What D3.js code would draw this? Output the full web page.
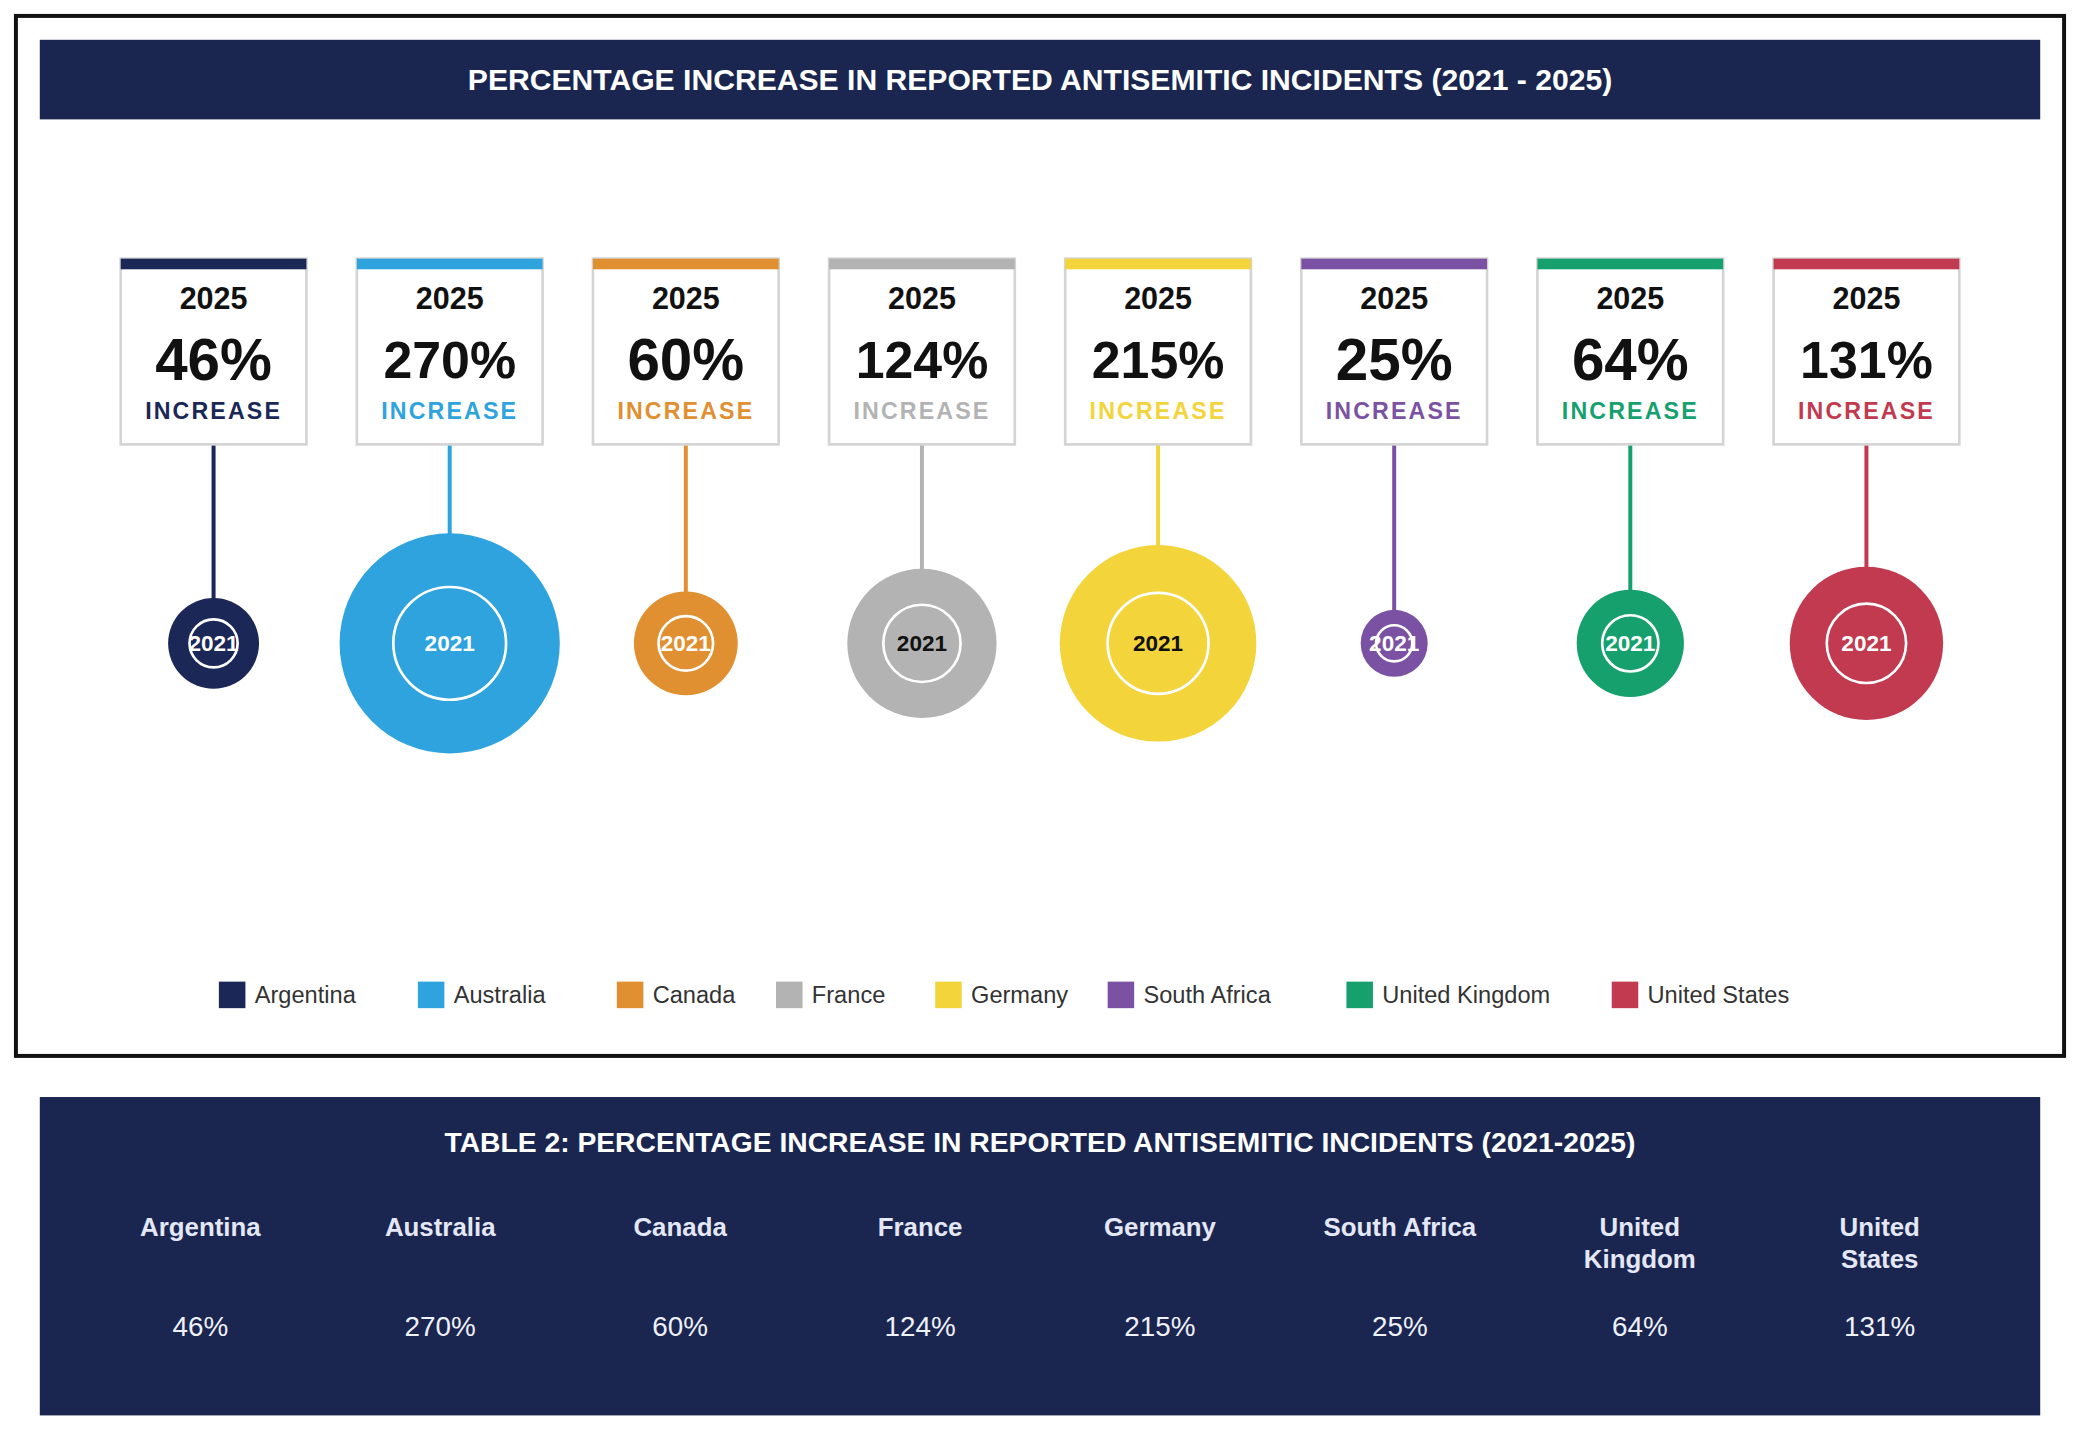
<!DOCTYPE html>
<html>
<head>
<meta charset="utf-8">
<script src="https://cdn.jsdelivr.net/npm/d3@7"></script>
<style>
  html, body { margin: 0; padding: 0; background: #ffffff; }
  svg { display: block; }
  text { font-family: "Liberation Sans", Arial, Helvetica, sans-serif; }
</style>
</head>
<body>
<div id="chart"></div>
<script>
// ---------- DATA ----------
const countries = ["Argentina", "Australia", "Canada", "France", "Germany", "South Africa", "United Kingdom", "United States"];
const increases = [46, 270, 60, 124, 215, 25, 64, 131];
const colors = ["#1b2757", "#2ea3de", "#e08f31", "#b3b3b3", "#f3d43b", "#7b52a3", "#16a06e", "#c23a50"];
const innerTextColors = ["#ffffff", "#ffffff", "#ffffff", "#111111", "#111111", "#ffffff", "#ffffff", "#ffffff"];
const tableHeaders = [["Argentina"], ["Australia"], ["Canada"], ["France"], ["Germany"], ["South Africa"], ["United", "Kingdom"], ["United", "States"]];
const yearNow = "2025";
const yearBase = "2021";
const chartTitle = "PERCENTAGE INCREASE IN REPORTED ANTISEMITIC INCIDENTS (2021 - 2025)";
const tableTitle = "TABLE 2: PERCENTAGE INCREASE IN REPORTED ANTISEMITIC INCIDENTS (2021-2025)";

// ---------- LAYOUT ----------
const VW = 1568, VH = 1568 * 1440 / 2080;
const navy = "#1a2550";
const legendX = [165, 315, 465, 585, 705, 835, 1015, 1215];

const svg = d3.select("#chart").append("svg")
  .attr("width", 2080).attr("height", 1440)
  .attr("viewBox", `0 0 ${VW} ${VH}`);

// outer frame
svg.append("rect").attr("x", 12).attr("y", 12).attr("width", 1544).attr("height", 784)
  .attr("fill", "#fff").attr("stroke", "#111").attr("stroke-width", 3);

// title bar
svg.append("rect").attr("x", 30).attr("y", 30).attr("width", 1508).attr("height", 60).attr("fill", navy);
svg.append("text").attr("x", 784).attr("y", 60).attr("dy", "0.35em")
  .attr("text-anchor", "middle").attr("fill", "#fff")
  .attr("font-weight", "bold").attr("font-size", 22.7).text(chartTitle);

// scales
const x = d3.scalePoint().domain(countries).range([161, 1407]);
const r = d3.scaleSqrt().domain([0, 270]).range([0, 83]);
const cy = 485;
const boxTop = 195, boxH = 140, boxW = 140;
const maxValueWidth = 100;

const data = countries.map((c, i) => ({ c, v: increases[i], col: colors[i], tcol: innerTextColors[i] }));

const g = svg.append("g").selectAll("g").data(data).join("g")
  .attr("transform", d => `translate(${x(d.c)},0)`);

// stems
g.append("line").attr("x1", 0).attr("x2", 0)
  .attr("y1", boxTop + boxH).attr("y2", d => cy - r(d.v) + 1)
  .attr("stroke", d => d.col).attr("stroke-width", 3);

// boxes
g.append("rect").attr("x", -boxW / 2).attr("y", boxTop).attr("width", boxW).attr("height", boxH)
  .attr("fill", "#fff").attr("stroke", "#d4d4d4").attr("stroke-width", 2);
g.append("rect").attr("x", -boxW / 2).attr("y", boxTop).attr("width", boxW).attr("height", 8)
  .attr("fill", d => d.col);

g.append("text").attr("y", 225).attr("dy", "0.35em").attr("text-anchor", "middle")
  .attr("font-weight", "bold").attr("font-size", 23).attr("fill", "#111").text(yearNow);
g.append("text").attr("y", 271).attr("dy", "0.35em").attr("text-anchor", "middle")
  .attr("font-weight", "bold").attr("font-size", 44).attr("fill", "#111").text(d => d.v + "%")
  .each(function () {
    const w = this.getComputedTextLength();
    if (w > maxValueWidth) d3.select(this).attr("font-size", 44 * maxValueWidth / w);
  });
g.append("text").attr("y", 310).attr("dy", "0.35em").attr("text-anchor", "middle")
  .attr("font-weight", "bold").attr("font-size", 17.5).attr("letter-spacing", 1.6)
  .attr("fill", d => d.col).text("INCREASE");

// circles
g.append("circle").attr("cx", 0).attr("cy", cy).attr("r", d => r(d.v)).attr("fill", d => d.col);
g.append("circle").attr("cx", 0).attr("cy", cy).attr("r", d => r(d.v) / 2 + 1)
  .attr("fill", "none").attr("stroke", "#fff").attr("stroke-width", 2);
g.append("text").attr("y", cy).attr("dy", "0.35em").attr("text-anchor", "middle")
  .attr("font-weight", "bold").attr("font-size", 17).attr("fill", d => d.tcol).text(yearBase);

// legend
const lg = svg.append("g").selectAll("g").data(data).join("g")
  .attr("transform", (d, i) => `translate(${legendX[i]},740)`);
lg.append("rect").attr("width", 20).attr("height", 20).attr("fill", d => d.col);
lg.append("text").attr("x", 27).attr("y", 10).attr("dy", "0.35em")
  .attr("font-size", 17.8).attr("fill", "#333").text(d => d.c);

// table
svg.append("rect").attr("x", 30).attr("y", 827).attr("width", 1508).attr("height", 240).attr("fill", navy);
svg.append("text").attr("x", 784).attr("y", 861).attr("dy", "0.35em").attr("text-anchor", "middle")
  .attr("fill", "#fff").attr("font-weight", "bold").attr("font-size", 21.3).text(tableTitle);

const tx = d3.scalePoint().domain(countries).range([151, 1417]);
const tg = svg.append("g").selectAll("g").data(data).join("g")
  .attr("transform", d => `translate(${tx(d.c)},0)`);
tg.append("text").attr("text-anchor", "middle").attr("fill", "#e4e7f6")
  .attr("font-weight", "bold").attr("font-size", 19.5)
  .selectAll("tspan").data((d, i) => tableHeaders[i]).join("tspan")
  .attr("x", 0).attr("y", (d, j) => 925 + j * 24).attr("dy", "0.35em").text(t => t);
tg.append("text").attr("y", 1000).attr("dy", "0.35em").attr("text-anchor", "middle")
  .attr("fill", "#eef0fa").attr("font-size", 21).text(d => d.v + "%");
</script>
</body>
</html>
